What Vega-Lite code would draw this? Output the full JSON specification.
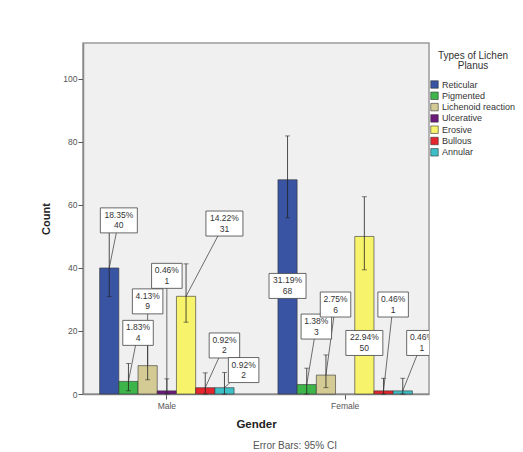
{
  "$schema": "https://vega.github.io/schema/vega-lite/v6.json",
  "autosize": "none",
  "width": 346,
  "height": 351,
  "padding": {"left": 83, "top": 43, "right": 94, "bottom": 58},
  "background": "white",
  "config": {
    "font": "Liberation Sans",
    "view": {"fill": "#f0f0f0", "stroke": "#9a9a9a", "strokeWidth": 1.5}
  },
  "title": {"text": "Error Bars: 95% CI", "orient": "bottom", "anchor": "middle", "fontSize": 10, "fontWeight": "normal", "color": "#555", "offset": 11, "dx": 39},
  "datasets": {
    "counts": [
      {"gender": "Male", "type": "Reticular", "count": 40, "lower": 30.9, "upper": 51.5},
      {"gender": "Male", "type": "Pigmented", "count": 4, "lower": 1, "upper": 9.7},
      {"gender": "Male", "type": "Lichenoid reaction", "count": 9, "lower": 4.5, "upper": 16.1},
      {"gender": "Male", "type": "Ulcerative", "count": 1, "lower": 0, "upper": 4.8},
      {"gender": "Male", "type": "Erosive", "count": 31, "lower": 22.8, "upper": 41.3},
      {"gender": "Male", "type": "Bullous", "count": 2, "lower": 0, "upper": 6.7},
      {"gender": "Male", "type": "Annular", "count": 2, "lower": 0, "upper": 6.8},
      {"gender": "Female", "type": "Reticular", "count": 68, "lower": 55.9, "upper": 81.9},
      {"gender": "Female", "type": "Pigmented", "count": 3, "lower": 0, "upper": 8.2},
      {"gender": "Female", "type": "Lichenoid reaction", "count": 6, "lower": 2, "upper": 12.4},
      {"gender": "Female", "type": "Erosive", "count": 50, "lower": 39.4, "upper": 62.6},
      {"gender": "Female", "type": "Bullous", "count": 1, "lower": 0, "upper": 5},
      {"gender": "Female", "type": "Annular", "count": 1, "lower": 0, "upper": 5}
    ],
    "callouts": [
      {"gender": "Male", "type": "Reticular", "pct": "18.35%", "n": 40, "at": 55.1, "slot": "R-P"},
      {"gender": "Male", "type": "Pigmented", "pct": "1.83%", "n": 4, "at": 19.4, "slot": "P-L"},
      {"gender": "Male", "type": "Lichenoid reaction", "pct": "4.13%", "n": 9, "at": 29.4, "slot": "Lichenoid reaction"},
      {"gender": "Male", "type": "Ulcerative", "pct": "0.46%", "n": 1, "at": 37.5, "slot": "Ulcerative"},
      {"gender": "Male", "type": "Erosive", "pct": "14.22%", "n": 31, "at": 54.1, "slot": "Annular"},
      {"gender": "Male", "type": "Bullous", "pct": "0.92%", "n": 2, "at": 15.4, "slot": "Annular"},
      {"gender": "Male", "type": "Annular", "pct": "0.92%", "n": 2, "at": 7.6, "slot": "A++"},
      {"gender": "Female", "type": "Reticular", "pct": "31.19%", "n": 68, "at": 34.3, "slot": "Reticular"},
      {"gender": "Female", "type": "Pigmented", "pct": "1.38%", "n": 3, "at": 21.4, "slot": "P-L"},
      {"gender": "Female", "type": "Lichenoid reaction", "pct": "2.75%", "n": 6, "at": 28.4, "slot": "L-U"},
      {"gender": "Female", "type": "Erosive", "pct": "22.94%", "n": 50, "at": 16.2, "slot": "Erosive"},
      {"gender": "Female", "type": "Bullous", "pct": "0.46%", "n": 1, "at": 28.4, "slot": "B-A"},
      {"gender": "Female", "type": "Annular", "pct": "0.46%", "n": 1, "at": 16.2, "slot": "A++"}
    ]
  },
  "encoding": {
    "x": {
      "field": "gender", "type": "nominal", "sort": ["Male", "Female"],
      "scale": {"domain": ["Male", "Female"], "paddingInner": 0.246, "paddingOuter": 0.0933},
      "title": "Gender",
      "axis": {"labelAngle": 0, "labelFontSize": 8.5, "labelColor": "#555", "tickColor": "#555", "tickSize": 5, "domainColor": "#888", "domainWidth": 1.5, "titleFontSize": 11.5, "titleFontWeight": "bold", "titleColor": "#222", "titlePadding": 9, "labelPadding": 2}
    }
  },
  "layer": [
    {
      "data": {"name": "counts"},
      "encoding": {
        "xOffset": {"field": "type", "type": "nominal", "scale": {"domain": ["Reticular", "Pigmented", "Lichenoid reaction", "Ulcerative", "Erosive", "Bullous", "Annular"], "paddingInner": 0, "paddingOuter": 0}}
      },
      "layer": [
        {
          "mark": {"type": "bar", "stroke": "#333", "strokeWidth": 0.6},
          "encoding": {
            "y": {
              "field": "count", "type": "quantitative",
              "scale": {"domain": [0, 111.4], "nice": false},
              "title": "Count",
              "axis": {"values": [0, 20, 40, 60, 80, 100], "grid": false, "labelFontSize": 8.5, "labelColor": "#555", "tickColor": "#555", "tickSize": 5, "domainColor": "#888", "domainWidth": 1.5, "titleFontSize": 11, "titleFontWeight": "bold", "titleColor": "#222", "titlePadding": 11, "labelPadding": 1}
            },
            "color": {
              "field": "type", "type": "nominal",
              "scale": {"domain": ["Reticular", "Pigmented", "Lichenoid reaction", "Ulcerative", "Erosive", "Bullous", "Annular"], "range": ["#3a54a4", "#3db54a", "#d4cb94", "#6c1a7c", "#f7f36b", "#e6262e", "#3ebfc7"]},
              "legend": {"orient": "none", "legendX": 347, "legendY": 8, "title": ["Types of Lichen", "Planus"], "titleFontSize": 10, "titleFontWeight": "normal", "titleColor": "#333", "titleAnchor": "middle", "titleAlign": "center", "titlePadding": 9, "titleLineHeight": 10, "symbolType": "square", "symbolSize": 56, "symbolStrokeColor": "#333", "symbolStrokeWidth": 0.6, "labelFontSize": 9, "labelColor": "#333", "rowPadding": 0.3, "labelOffset": 3}
            }
          }
        },
        {
          "mark": {"type": "rule", "color": "#222", "strokeWidth": 0.8},
          "encoding": {
            "y": {"field": "lower", "type": "quantitative"},
            "y2": {"field": "upper"}
          }
        },
        {
          "transform": [{"fold": ["lower", "upper"], "as": ["end", "ci"]}],
          "mark": {"type": "tick", "color": "#222", "size": 5, "thickness": 0.8},
          "encoding": {
            "y": {"field": "ci", "type": "quantitative"}
          }
        }
      ]
    },
    {
      "data": {"name": "callouts"},
      "layer": [
        {
          "transform": [
            {"filter": "datum.at > datum.n"},
            {"fold": ["at", "n"], "as": ["endY", "yv"]},
            {"fold": ["slot", "type"], "as": ["endX", "xv"]},
            {"filter": "(datum.endY == 'at' && datum.endX == 'slot') || (datum.endY == 'n' && datum.endX == 'type')"}
          ],
          "mark": {"type": "line", "color": "#333", "strokeWidth": 0.7, "clip": true},
          "encoding": {
            "xOffset": {"field": "xv", "type": "nominal", "scale": {"type": "point", "domain": ["Reticular", "R-P", "Pigmented", "P-L", "Lichenoid reaction", "L-U", "Ulcerative", "U-E", "Erosive", "E-B", "Bullous", "B-A", "Annular", "A+", "A++"], "range": [9.6, 144], "padding": 0}},
            "y": {"field": "yv", "type": "quantitative"},
            "detail": [{"field": "gender"}, {"field": "type"}]
          }
        },
        {
          "mark": {"type": "point", "size": 625, "filled": true, "fill": "white", "stroke": "#444", "strokeWidth": 0.8, "opacity": 1, "clip": true},
          "encoding": {
            "xOffset": {"field": "slot", "type": "nominal"},
            "y": {"field": "at", "type": "quantitative"},
            "shape": {"condition": {"test": "length(datum.pct) > 5", "value": "M-1.48,-1H1.48V1H-1.48Z"}, "value": "M-1.22,-1H1.22V1H-1.22Z"}
          }
        },
        {
          "mark": {"type": "text", "fontSize": 8.5, "color": "#333", "dy": -5.5, "clip": true},
          "encoding": {
            "xOffset": {"field": "slot", "type": "nominal"},
            "y": {"field": "at", "type": "quantitative"},
            "text": {"field": "pct"}
          }
        },
        {
          "mark": {"type": "text", "fontSize": 8.5, "color": "#333", "dy": 5, "clip": true},
          "encoding": {
            "xOffset": {"field": "slot", "type": "nominal"},
            "y": {"field": "at", "type": "quantitative"},
            "text": {"field": "n"}
          }
        }
      ]
    }
  ],
  "resolve": {"scale": {"xOffset": "independent"}}
}
